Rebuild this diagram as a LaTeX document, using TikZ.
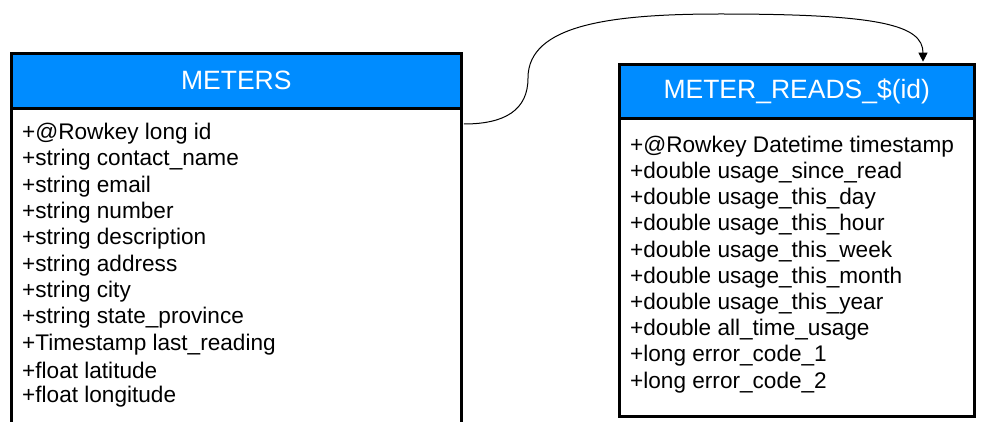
\documentclass[tikz,border=0pt]{standalone}
\usepackage{fontspec}
\setmainfont{Liberation Sans}
\usetikzlibrary{arrows.meta}
\definecolor{hdr}{RGB}{0,140,255}
\begin{document}
\begin{tikzpicture}[x={(1pt,0)},y={(0,-1pt)},
  hdrbox/.style={draw=black,line width=2.6pt,fill=hdr,text=white,anchor=north west,
    font=\fontsize{26.5}{30}\selectfont,inner sep=0pt},
  bodybox/.style={draw=black,line width=2.6pt,fill=white,anchor=north west,inner sep=0pt},
  attr/.style={anchor=west,font=\fontsize{22.6}{26}\selectfont,inner sep=0pt},
  conn/.style={draw=black,line width=1pt,-{Triangle[length=9pt,width=9pt]}}]
\useasboundingbox (0,0) rectangle (992,422);
\clip (0,0) rectangle (992,422);
% shadows
\fill[black!30] (12,54) rectangle (463,450);
\fill[black!30] (620,65) rectangle (976,418);
% METERS
\node[bodybox,minimum width=450pt,minimum height=345pt] (mb) at (10,107) {};
\node[hdrbox,minimum width=450pt,minimum height=55pt] (mh) at (10,52) {METERS};
\foreach \t [count=\i] in {+@Rowkey long id,+string contact\_name,+string email,+string number,+string description,+string address,+string city,+string state\_province,+Timestamp last\_reading,+float latitude,+float longitude}
  \node[attr] (m\i) at (22,{133.5+26.35*(\i-1)}) {\t};
% METER_READS
\node[bodybox,minimum width=355pt,minimum height=298pt] (rb) at (618,117) {};
\node[hdrbox,minimum width=355pt,minimum height=54pt] (rh) at (618,63) {METER\_READS\_\$(id)};
\foreach \t [count=\i] in {+@Rowkey Datetime timestamp,+double usage\_since\_read,+double usage\_this\_day,+double usage\_this\_hour,+double usage\_this\_week,+double usage\_this\_month,+double usage\_this\_year,+double all\_time\_usage,+long error\_code\_1,+long error\_code\_2}
  \node[attr] (r\i) at (630,{146.5+26.2*(\i-1)}) {\t};
% connector
\path (mb.north east) ++(1.3,17) coordinate (cs);
\path (rh.north west) ++(305,-1.3) coordinate (ce);
\draw[conn] (cs) .. controls (505,124) and (528,110) .. (528,78)
  .. controls (528,25) and (610,14) .. (720,14)
  .. controls (880,14) and (923,25) .. (ce);
\end{tikzpicture}
\end{document}
